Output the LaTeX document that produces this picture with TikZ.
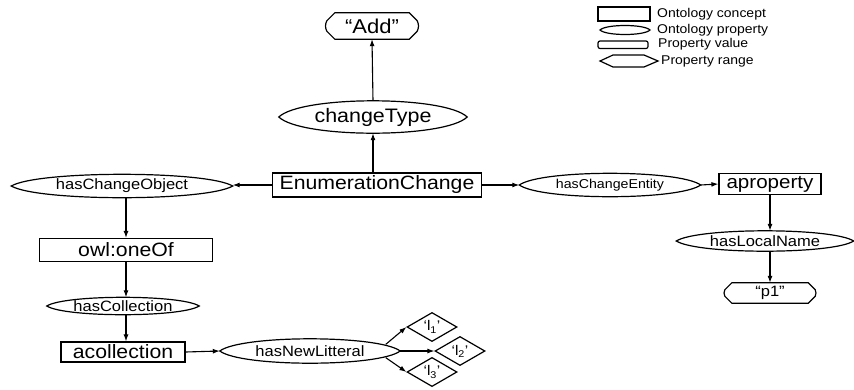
\documentclass[tikz,border=0pt]{standalone}
\usepackage{fontspec}
\setmainfont[FakeStretch=1.1]{Liberation Sans}
\usetikzlibrary{shapes.geometric,arrows.meta,calc}

\tikzset{
  outline/.style={line width=1.2pt},
  base/.style={inner sep=0pt, font=\fontsize{19.3}{22}\selectfont},
  concept/.style={base, draw, outline, rectangle},
  prop/.style={base, ellipse, font=\fontsize{15}{18}\selectfont},
  smallprop/.style={prop, font=\fontsize{12.9}{15}\selectfont},
  propval/.style={base, rectangle},
  proprange/.style={base, draw, outline, diamond, font=\fontsize{14}{16}\selectfont},
  link/.style={line width=1.1pt, -{Latex[length=7pt,width=5pt]}},
  legendtext/.style={anchor=west, inner sep=0pt, font=\fontsize{12.7}{15}\selectfont},
}

% property outline: an ellipse with slightly pointed ends
\newcommand\lensoutline[1]{%
  \draw[outline] let \p1=(#1.west), \p2=(#1.east), \p3=(#1.north), \p4=(#1.south) in
    (\p1) .. controls ({\x1+0.12*(\x2-\x1)}, {\y1+1.333*(\y3-\y1)})
              and ({\x2-0.12*(\x2-\x1)}, {\y1+1.333*(\y3-\y1)}) .. (\p2)
          .. controls ({\x2-0.12*(\x2-\x1)}, {\y1+1.333*(\y4-\y1)})
              and ({\x1+0.12*(\x2-\x1)}, {\y1+1.333*(\y4-\y1)}) .. (\p1) -- cycle;}

% property value outline: clipped corners and slightly bulging sides
\newcommand\valoutline[2]{%
  \draw[outline]
    ($(#1.north west)+(#2,0)$) -- ($(#1.north east)+(-#2,0)$)
    -- ($(#1.north east)+(0,#2)$) to[bend left=25] ($(#1.south east)+(0,-#2)$)
    -- ($(#1.south east)+(-#2,0)$) -- ($(#1.south west)+(#2,0)$)
    -- ($(#1.south west)+(0,-#2)$) to[bend left=25] ($(#1.north west)+(0,#2)$)
    -- cycle;}

\begin{document}
\begin{tikzpicture}[x=1pt, y=-1pt]
\useasboundingbox (0,0) rectangle (854,389);

% main concept and its change type
\node[concept, minimum width=209pt, minimum height=24pt] (ec) at (377,185) {EnumerationChange};
\node[prop, font=\fontsize{19.5}{22}\selectfont, minimum width=188pt, minimum height=32pt] (ct) at (373,117) {changeType};
\node[propval, minimum width=90pt, minimum height=26pt, font=\fontsize{20}{22}\selectfont] (add) at (372,26) {“Add”};

% left branch: changed object
\node[prop, minimum width=221pt, minimum height=23pt] (hco) at (122,186) {hasChangeObject};
\node[concept, minimum width=173pt, minimum height=23pt] (one) at (126,250) {owl:oneOf};
\node[prop, minimum width=152pt, minimum height=17pt] (hcol) at (123,306) {hasCollection};
\node[concept, minimum width=124pt, minimum height=20pt] (acol) at (123,352) {acollection};
\node[prop, minimum width=180pt, minimum height=24pt] (hnl) at (310,351) {hasNewLitteral};
\node[proprange, minimum width=50pt, minimum height=24pt] (l1) at (432,327) {‘l\textsubscript{1}’};
\node[proprange, minimum width=50pt, minimum height=24pt] (l2) at (460,351) {‘l\textsubscript{2}’};
\node[proprange, minimum width=50pt, minimum height=24pt] (l3) at (432,372) {‘l\textsubscript{3}’};

% right branch: changed entity
\node[smallprop, minimum width=181pt, minimum height=23pt] (hce) at (610,185) {hasChangeEntity};
\node[concept, minimum width=102pt, minimum height=21pt, font=\fontsize{18.7}{22}\selectfont] (aprop) at (770,184) {aproperty};
\node[prop, minimum width=177pt, minimum height=20pt] (hln) at (765,241) {hasLocalName};
\node[propval, minimum width=90pt, minimum height=20pt, font=\fontsize{15}{18}\selectfont] (p1) at (770,293) {“p1”};

% outlines of properties and values
\lensoutline{ct}
\lensoutline{hco}
\lensoutline{hcol}
\lensoutline{hnl}
\lensoutline{hce}
\lensoutline{hln}
\valoutline{add}{8}
\valoutline{p1}{7}

% connectors
\draw[link] (ec.north -| ct.south) -- (ct.south);
\draw[link] (ct.north) -- (add.south);
\draw[link] (ec.west) -- (hco.east |- ec.west);
\draw[link] (hco.south -| one.north) -- (one.north);
\draw[link] (one.south) -- (hcol.north -| one.south);
\draw[link] (hcol.south -| one.south) -- (acol.north -| one.south);
\draw[link] (acol.east) -- (hnl.west);
\draw[link] (hnl.5) -- (l1.west);
\draw[link] (hnl.east) -- (l2.west);
\draw[link] (hnl.-5) -- (l3.west);
\draw[link] (ec.east) -- (hce.west);
\draw[link] (hce.east) -- (aprop.west);
\draw[link] (aprop.south) -- (hln.north -| aprop.south);
\draw[link] (hln.south -| p1.north) -- (p1.north);

% legend
\draw[outline] (598,7) rectangle (650,21);
\node[legendtext] (lg1) at (657,14) {Ontology concept};
\draw[outline] (600,30) .. controls (606,24) and (644,24) .. (650,30)
               .. controls (644,36) and (606,36) .. (600,30) -- cycle;
\node[legendtext] (lg2) at (657,30) {Ontology property};
\draw[outline, rounded corners=2pt] (598,41) rectangle (648,48.5);
\node[legendtext] (lg3) at (658,44.5) {Property value};
\draw[outline] (600,61) -- (613,55) -- (644,55) -- (658,61) -- (644,67) -- (613,67) -- cycle;
\node[legendtext] (lg4) at (661,61) {Property range};

\end{tikzpicture}
\end{document}
